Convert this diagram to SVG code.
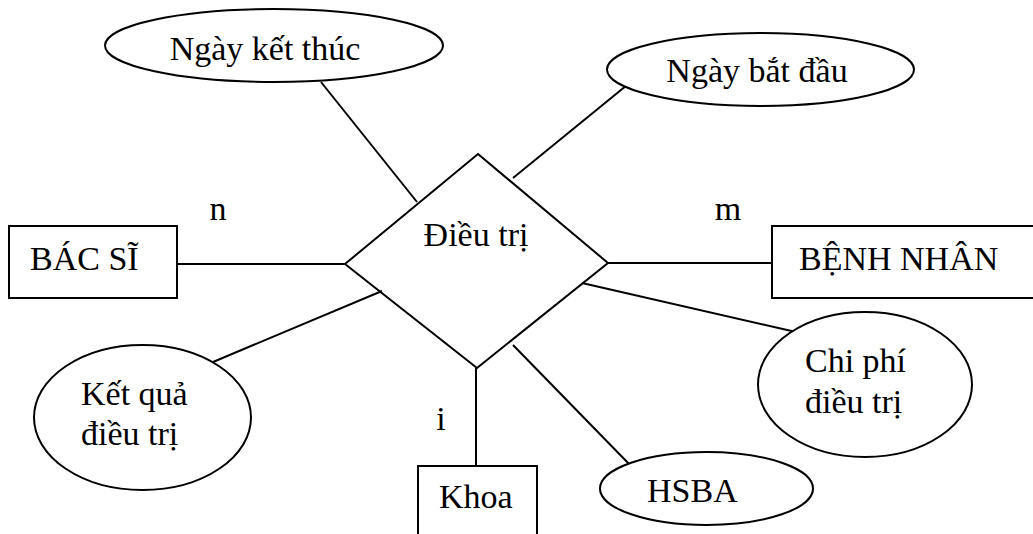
<svg xmlns="http://www.w3.org/2000/svg" width="1033" height="534" viewBox="0 0 1033 534">
<style>
.s{fill:#fff;stroke:#000;stroke-width:2}
.l{stroke:#000;stroke-width:2;fill:none}
.t{font-family:'Liberation Serif','Times New Roman',Times,serif;font-size:34px;fill:#000}
.c{text-anchor:middle}
</style>
<rect width="1033" height="534" fill="#fff"/>
<g id="connectors">
<line class="l" x1="321" y1="82" x2="417" y2="202"/>
<line class="l" x1="632" y1="81" x2="513" y2="178"/>
<line class="l" x1="177" y1="264" x2="345" y2="264"/>
<line class="l" x1="608" y1="263" x2="772" y2="263"/>
<line class="l" x1="213" y1="362" x2="382" y2="291"/>
<line class="l" x1="582" y1="283" x2="796" y2="332"/>
<line class="l" x1="513" y1="345" x2="631" y2="466"/>
<line class="l" x1="476" y1="368" x2="476" y2="466"/>
</g>
<g id="dieu-tri">
<polygon class="l" points="478,154 608,263 477,368 345,264"/>
<text class="t c" font-family="Liberation Serif, serif" x="476" y="246">Điều trị</text>
</g>
<g id="ngay-ket-thuc">
<ellipse class="s" cx="274" cy="45.5" rx="169" ry="36.5"/>
<text class="t c" font-family="Liberation Serif, serif" x="265" y="60">Ngày kết thúc</text>
</g>
<g id="ngay-bat-dau">
<ellipse class="s" cx="760.5" cy="69.5" rx="153.5" ry="36.5"/>
<text class="t c" font-family="Liberation Serif, serif" x="757" y="82">Ngày bắt đầu</text>
</g>
<g id="bac-si">
<rect class="s" x="9" y="226" width="168" height="72"/>
<text class="t" font-family="Liberation Serif, serif" x="30" y="270">BÁC SĨ</text>
</g>
<g id="benh-nhan">
<rect class="s" x="772" y="226" width="270" height="72"/>
<text class="t" font-family="Liberation Serif, serif" x="799" y="270">BỆNH NHÂN</text>
</g>
<g id="ket-qua">
<ellipse class="s" cx="142.5" cy="417.5" rx="108.5" ry="72.5"/>
<text class="t" font-family="Liberation Serif, serif" x="81" y="405">Kết quả</text>
<text class="t" font-family="Liberation Serif, serif" x="81" y="445">điều trị</text>
</g>
<g id="chi-phi">
<ellipse class="s" cx="865" cy="384.5" rx="107" ry="72.5"/>
<text class="t" font-family="Liberation Serif, serif" x="805" y="372">Chi phí</text>
<text class="t" font-family="Liberation Serif, serif" x="805" y="413">điều trị</text>
</g>
<g id="hsba">
<ellipse class="s" cx="706.5" cy="488.5" rx="106.5" ry="36.5"/>
<text class="t" font-family="Liberation Serif, serif" x="647" y="502">HSBA</text>
</g>
<g id="khoa">
<rect class="s" x="418" y="466" width="119" height="80"/>
<text class="t" font-family="Liberation Serif, serif" x="439" y="508">Khoa</text>
</g>
<g id="labels">
<text class="t c" font-family="Liberation Serif, serif" x="218" y="220">n</text>
<text class="t c" font-family="Liberation Serif, serif" x="728" y="220">m</text>
<text class="t c" font-family="Liberation Serif, serif" x="441" y="430">i</text>
</g>
</svg>
